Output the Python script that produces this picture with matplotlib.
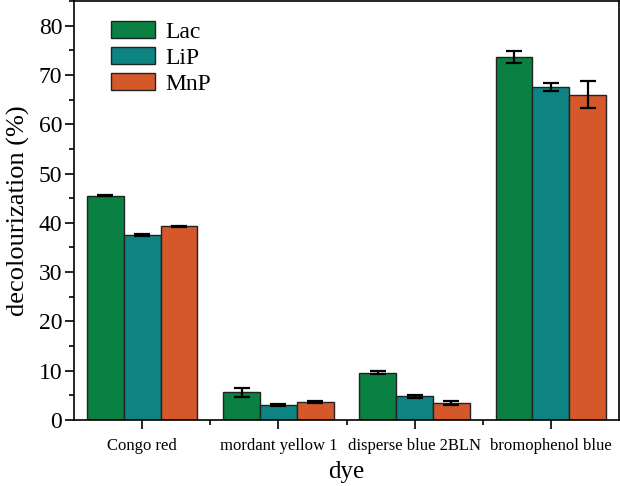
import matplotlib
matplotlib.use("Agg")
import matplotlib.pyplot as plt
from matplotlib.ticker import MultipleLocator, FixedLocator
import numpy as np

dyes = ["Congo red", "mordant yellow 1", "disperse blue 2BLN", "bromophenol blue"]
enzymes = ["Lac", "LiP", "MnP"]
lac = [45.5, 5.6, 9.6, 73.7]
lip = [37.5, 3.05, 4.8, 67.6]
mnp = [39.3, 3.65, 3.4, 66.0]
lac_err = [0.15, 0.9, 0.35, 1.2]
lip_err = [0.15, 0.2, 0.25, 0.8]
mnp_err = [0.15, 0.25, 0.4, 2.7]

colors = ["#0B8043", "#0E8482", "#D4582A"]

plt.rcParams["font.family"] = ["Liberation Serif", "DejaVu Serif"]

fig = plt.figure(figsize=(6.2, 4.86), dpi=100)
ax = fig.add_axes([74 / 620, 66 / 486, 545 / 620, 419 / 486])

x = np.arange(1, len(dyes) + 1)
w = 0.27
for i, (vals, errs) in enumerate([(lac, lac_err), (lip, lip_err), (mnp, mnp_err)]):
    ax.bar(x + (i - 1) * w, vals, w, color=colors[i], edgecolor="#222222",
           linewidth=1.0, label=enzymes[i],
           yerr=errs, capsize=6,
           error_kw=dict(ecolor="black", elinewidth=1.6, capthick=1.6))

ax.set_xlim(0.5, 4.5)
ax.set_ylim(0, 85)
ax.set_xticks(x)
ax.set_xticklabels(dyes, fontsize=12)
ax.xaxis.set_minor_locator(FixedLocator([1.5, 2.5, 3.5]))
ax.yaxis.set_major_locator(MultipleLocator(10))
ax.yaxis.set_minor_locator(MultipleLocator(5))
ax.tick_params(axis="both", which="major", direction="out", length=6.5, width=1.2)
ax.tick_params(axis="both", which="minor", direction="out", length=3.5, width=1.2)
ax.tick_params(axis="y", labelsize=17, pad=2)
ax.tick_params(axis="x", pad=6.5)
for s in ax.spines.values():
    s.set_linewidth(1.2)

ax.set_xlabel("dye", fontsize=18, labelpad=5)
ax.set_ylabel("decolourization (%)", fontsize=19, labelpad=6)

ax.legend(loc="upper left", fontsize=17, frameon=False, handlelength=1.85,
          handleheight=0.72, labelspacing=0.18, handletextpad=0.45,
          bbox_to_anchor=(37 / 545, 1 - 20 / 419), borderaxespad=0,
          borderpad=0)

fig.savefig("out.png", dpi=100)
